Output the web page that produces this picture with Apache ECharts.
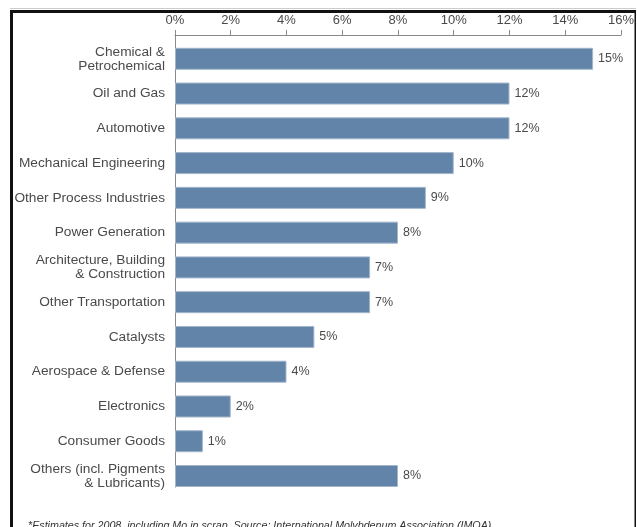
<!DOCTYPE html>
<html>
<head>
<meta charset="utf-8">
<script src="https://cdn.jsdelivr.net/npm/echarts@6/dist/echarts.min.js"></script>
<style>
  html, body { margin: 0; padding: 0; background: #fff; }
  #main { width: 637px; height: 527px; }
</style>
</head>
<body>
<div id="main"></div>
<script>
// end uses of molybdenum, share in %
var categories = [
    'Chemical &\nPetrochemical',
    'Oil and Gas',
    'Automotive',
    'Mechanical Engineering',
    'Other Process Industries',
    'Power Generation',
    'Architecture, Building\n& Construction',
    'Other Transportation',
    'Catalysts',
    'Aerospace & Defense',
    'Electronics',
    'Consumer Goods',
    'Others (incl. Pigments\n& Lubricants)'
];
var shares = [15, 12, 12, 10, 9, 8, 7, 7, 5, 4, 2, 1, 8];
var tickLabels = ['0%', '2%', '4%', '6%', '8%', '10%', '12%', '14%', '16%'];
var footnote = '*Estimates for 2008, including Mo in scrap. Source: International Molybdenum Association (IMOA)';

var font = 'Liberation Sans, Arial, sans-serif';
var textGrey = '#4a4a4a';
var axisGrey = '#8a8a8a';

var myChart = echarts.init(document.getElementById('main'));
myChart.setOption({
    animation: false,
    grid: {
        left: 175,
        right: 15.5,
        top: 35,
        bottom: 40
    },
    xAxis: {
        type: 'value',
        position: 'top',
        min: 0,
        max: 16,
        interval: 2,
        splitLine: { show: false },
        axisLine: { show: true, lineStyle: { color: axisGrey, width: 1 } },
        axisTick: { show: true, length: 5, lineStyle: { color: axisGrey } },
        axisLabel: {
            margin: 8,
            color: textGrey,
            fontFamily: font,
            fontSize: 13,
            formatter: function (v) { return tickLabels[v / 2]; }
        }
    },
    yAxis: {
        type: 'category',
        inverse: true,
        data: categories,
        axisLine: { show: true, lineStyle: { color: axisGrey, width: 1 } },
        axisTick: { show: false },
        axisLabel: {
            margin: 10,
            align: 'right',
            // a blank first line pushes the label down level with its bar
            formatter: function (v) {
                return '{s| }\n' + v.split('\n').map(function (l) { return '{l|' + l + '}'; }).join('\n');
            },
            rich: {
                s: { fontSize: 4, lineHeight: 12.8 },
                l: { color: textGrey, fontFamily: font, fontSize: 13.7, lineHeight: 14 }
            }
        }
    },
    series: [
        {
            // empty series, only pushes the real bars to the lower part of each band
            name: 'spacer',
            type: 'bar',
            data: categories.map(function () { return null; }),
            barWidth: 12.8,
            barGap: '0%',
            silent: true
        },
        {
            name: 'share',
            type: 'bar',
            data: shares,
            barWidth: 22,
            barGap: '0%',
            itemStyle: {
                color: '#6284a9',
                borderColor: '#a3b6cb',
                borderWidth: 1
            },
            label: {
                show: true,
                position: 'right',
                distance: 5,
                color: textGrey,
                fontFamily: font,
                fontSize: 12.5,
                formatter: '{c}%'
            }
        }
    ],
    graphic: [
        { type: 'rect', shape: { x: 10, y: 8, width: 626, height: 1 }, style: { fill: '#cccccc' }, silent: true },
        { type: 'rect', shape: { x: 10, y: 10, width: 626, height: 3 }, style: { fill: '#111111' }, silent: true },
        { type: 'rect', shape: { x: 10, y: 10, width: 3, height: 517 }, style: { fill: '#111111' }, silent: true },
        { type: 'rect', shape: { x: 634.5, y: 10, width: 1.5, height: 517 }, style: { fill: '#111111' }, silent: true },
        {
            type: 'text',
            left: 28,
            top: 521,
            style: {
                text: footnote,
                fill: '#333333',
                font: 'italic 10.7px Liberation Sans, Arial, sans-serif'
            },
            silent: true
        }
    ]
});
</script>
</body>
</html>
